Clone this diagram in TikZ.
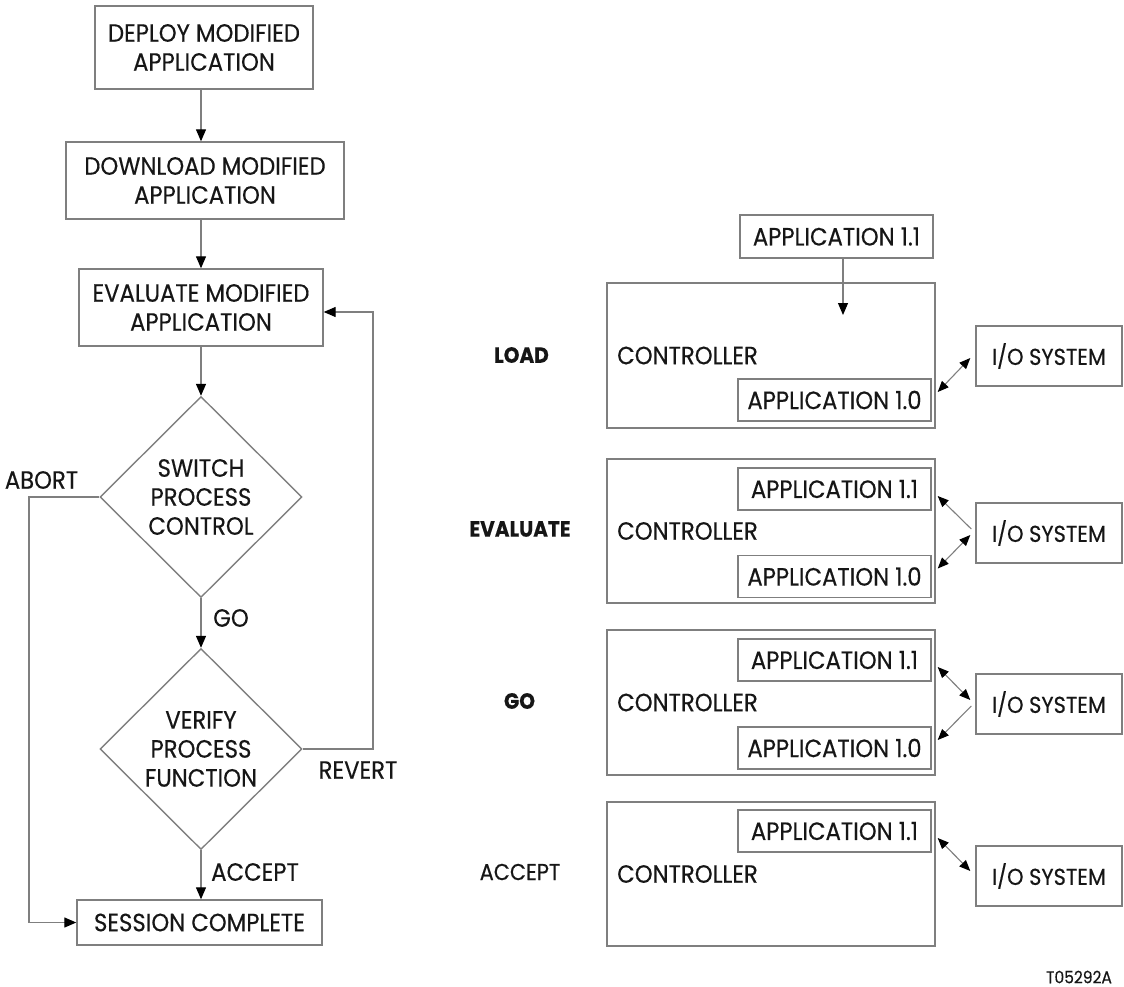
\documentclass[tikz,border=0pt]{standalone}
\usepackage{fontspec}
\setmainfont{Poppins}[FakeStretch=0.91, FakeBold=0.4]
\usetikzlibrary{shapes.geometric,arrows.meta,calc}

\definecolor{linegray}{HTML}{7F7F7F}
\definecolor{ink}{HTML}{161616}

\tikzset{
  every node/.style={text=ink, font=\fontsize{25}{29}\selectfont},
  flowbox/.style={draw=linegray, line width=1.4pt, inner sep=0pt, align=center},
  decision/.style={diamond, draw=linegray, line width=1.4pt, inner sep=0pt, align=center,
                   minimum width=202pt, minimum height=201pt},
  ctrlbox/.style={draw=linegray, line width=1.4pt, inner sep=0pt,
                  minimum width=328pt, minimum height=145pt},
  appbox/.style={flowbox, minimum width=193pt, minimum height=42pt},
  iobox/.style={flowbox, minimum width=146pt, minimum height=60pt, font=\fontsize{23}{29}\selectfont},
  arr/.style={draw=linegray, line width=1.3pt, -{Triangle[length=12pt,width=10pt,color=black]}},
  link/.style={draw=linegray, line width=1.1pt, -{Triangle[length=11pt,width=9pt,color=black]}},
  duplex/.style={draw=linegray, line width=1.1pt,
                 {Triangle[length=11pt,width=9pt,color=black]}-{Triangle[length=11pt,width=9pt,color=black]}},
  tag/.style={inner sep=0pt},
  phase/.style={inner sep=0pt, font=\fontsize{22}{26}\selectfont\bfseries},
}

\begin{document}
\begin{tikzpicture}[x=1pt,y=-1pt]
\useasboundingbox (0,0) rectangle (1124,987);

% ---------- flow chart ----------
\coordinate (col) at (201,0);
\coordinate (abortx) at (29,0);
\coordinate (revx) at (373,0);

\node[flowbox, minimum width=218pt, minimum height=83pt] (deploy) at (204,47.5)
  {DEPLOY MODIFIED\\APPLICATION};
\node[flowbox, minimum width=278pt, minimum height=77pt] (download) at (205,180.5)
  {DOWNLOAD MODIFIED\\APPLICATION};
\node[flowbox, minimum width=244pt, minimum height=77pt] (evaluate) at (201,307.5)
  {EVALUATE MODIFIED\\APPLICATION};
\node[decision] (switch) at (201,497) {SWITCH\\PROCESS\\CONTROL};
\node[decision] (verify) at (201,749) {VERIFY\\PROCESS\\FUNCTION};
\node[flowbox, minimum width=245pt, minimum height=45pt] (done) at (199.5,922.5)
  {SESSION COMPLETE};

\draw[arr] (deploy.south -| col) -- (download.north -| col);
\draw[arr] (download.south -| col) -- (evaluate.north -| col);
\draw[arr] (evaluate.south -| col) -- (switch.north);
\draw[arr] (switch.south) -- (verify.north);
\draw[arr] (verify.south) -- (done.north -| col);
\draw[arr] (switch.west) -- (switch.west -| abortx) |- (done.west);
\draw[arr] (verify.east) -- (verify.east -| revx) |- ($(evaluate.east)+(0,4.5)$);

\node[tag] (lgo) at (231,618) {GO};
\node[tag] (laccept) at (255,872) {ACCEPT};
\node[tag] (labort) at (41.5,480) {ABORT};
\node[tag] (lrevert) at (358,770) {REVERT};

% ---------- controller states ----------
% load
\node[appbox, minimum height=43pt] (newapp) at (836.5,236.5) {APPLICATION 1.1};
\node[ctrlbox] (c1) at (771,355.5) {};
\node[tag, anchor=west] (c1lab) at (617,355.5) {CONTROLLER};
\node[appbox] (c1old) at (834.5,400) {APPLICATION 1.0};
\node[iobox] (io1) at (1049,356) {I/O SYSTEM};
\coordinate (loadtip) at (843,315);
\draw[arr, line width=1.1pt] (newapp.south -| loadtip) -- (loadtip);
\draw[duplex] ($(c1old.east)+(6,-8)$) -- ($(io1.west)+(-5,2)$);
\node[phase] (lload) at (521.5,355) {LOAD};

% evaluate
\node[ctrlbox, minimum height=144pt] (c2) at (771,531) {};
\node[tag, anchor=west] (c2lab) at (617,531) {CONTROLLER};
\node[appbox] (c2new) at (834.5,489) {APPLICATION 1.1};
\node[appbox] (c2old) at (834.5,576.5) {APPLICATION 1.0};
\node[iobox] (io2) at (1049,533) {I/O SYSTEM};
\draw[link] ($(io2.west)+(-4,-4)$) -- ($(c2new.east)+(6,7)$);
\draw[duplex] ($(c2old.east)+(6,-8)$) -- ($(io2.west)+(-5,2)$);
\node[phase] (leval) at (520,529) {EVALUATE};

% go
\node[ctrlbox] (c3) at (771,702.5) {};
\node[tag, anchor=west] (c3lab) at (617,702.5) {CONTROLLER};
\node[appbox] (c3new) at (834.5,660) {APPLICATION 1.1};
\node[appbox] (c3old) at (834.5,748) {APPLICATION 1.0};
\node[iobox] (io3) at (1049,704) {I/O SYSTEM};
\draw[duplex] ($(c3new.east)+(6,7)$) -- ($(io3.west)+(-5,-4)$);
\draw[link] ($(io3.west)+(-4,2)$) -- ($(c3old.east)+(6,-8)$);
\node[phase] (lgo2) at (519.5,701) {GO};

% accept
\node[ctrlbox, minimum height=144pt] (c4) at (771,874) {};
\node[tag, anchor=west] (c4lab) at (617,874) {CONTROLLER};
\node[appbox] (c4new) at (834.5,831) {APPLICATION 1.1};
\node[iobox] (io4) at (1049,876) {I/O SYSTEM};
\draw[duplex] ($(c4new.east)+(6,7)$) -- ($(io4.west)+(-5,-5)$);
\node[tag, font=\fontsize{23}{29}\selectfont] (lacc2) at (520,872) {ACCEPT};

\node[tag, font=\fontsize{17}{20}\selectfont] (figid) at (1079,977) {T05292A};
\end{tikzpicture}
\end{document}
